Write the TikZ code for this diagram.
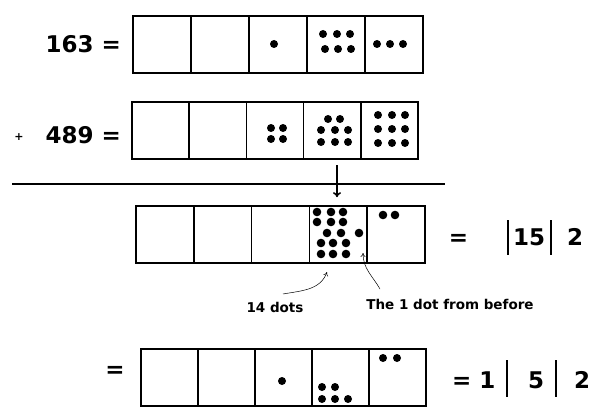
\documentclass[tikz,border=0pt]{standalone}
\usepackage{fontspec}
\setmainfont{DejaVu Sans}
\usetikzlibrary{arrows.meta}

\tikzset{
  cell/.style={draw, line width=1.6pt, inner sep=0pt, minimum height=57pt},
  big/.style={font=\fontsize{23}{25}\selectfont\bfseries, inner sep=0pt, anchor=base},
  note/.style={font=\fontsize{13.5}{15}\selectfont\bfseries, inner sep=0pt, anchor=base},
  bar/.style={line width=1.4pt},
  pointer/.style={line width=0.5pt, -{To[length=4pt,width=5pt]}},
}

\begin{document}
\begin{tikzpicture}[x=1pt,y=-1pt]
\useasboundingbox (0,0) rectangle (611,420);

% the four rows of boxes
\foreach \r/\x/\y/\w in {1/133/16/58,2/132/102/57.2,3/136/206/57.8,4/141/349/57}
  \foreach \i in {1,...,5}
    \node[cell,minimum width=\w pt] (r\r-\i) at ({\x+\w*(\i-0.5)},\y+28.5) {};

% dots
\foreach \x/\y in {274/44, 323/34,337/34,350/34,325/49,338/49,351/49, 377/44,390/44,403/44}
  \fill (\x,\y) circle (4pt);
\foreach \x/\y in {271/128,283/128,271/139,283/139,
  328/119,340/119,321/130,335/130,348/130,321/142,335/142,348/142,
  378/115,392/115,405/115,378/129,392/129,405/129,378/143,392/143,405/143}
  \fill (\x,\y) circle (4pt);
\foreach \x/\y in {317/212,331/212,343/212,317/222,331/222,343/222,
  327/233,341/233,359/233,321/243,333/243,346/243,321/254,333/254,346/254,
  383/215,395/215}
  \fill (\x,\y) circle (4.3pt);
\foreach \x/\y in {282/381, 322/387,335/387,322/399,335/399,348/399, 383/358,397/358}
  \fill (\x,\y) circle (4pt);

% numbers
\node[big,anchor=base east] (top) at (121,53) {163 =};
\node[font=\fontsize{11}{12}\selectfont\bfseries] (plus) at (19,137) {+};
\node[big,anchor=base east] (bottom) at (121,143) {489 =};

% the line and the carry
\coordinate (rule-l) at (12,184);
\coordinate (rule-r) at (445,184);
\draw[line width=2.5pt] (rule-l) -- (rule-r);
\coordinate (carry) at (337,165);
\draw[line width=1.6pt,-{To[length=5pt,width=8pt]}] (carry) -- ([yshift=8pt]carry |- r3-4.north);

\node[big] (eq3) at (458.5,245) {=};
\node[big] (tens3) at (529,245) {15};
\node[big] (ones3) at (575,245) {2};
\draw[bar] (508,220) -- (508,255);
\draw[bar] (551,220) -- (551,255);

% notes
\node[note] (lbl14) at (275,312) {14 dots};
\node[note] (lblone) at (450,309) {The 1 dot from before};
\coordinate (tip14) at (327,272);
\coordinate (tipone) at (363,253);
\draw[pointer] ([xshift=8pt,yshift=18pt]lbl14.base) to[out=10,in=-110] (tip14);
\draw[pointer] ([xshift=-70pt,yshift=20pt]lblone.base) to[out=120,in=-90] (tipone);

% result
\node[big,anchor=center] (eq4) at (115,372) {=};
\node[big,anchor=base west] (hund4) at (452,388) {= 1};
\node[big] (tens4) at (536,388) {5};
\node[big] (ones4) at (582,388) {2};
\draw[bar] (507,360) -- (507,397);
\draw[bar] (556,360) -- (556,397);
\end{tikzpicture}
\end{document}
